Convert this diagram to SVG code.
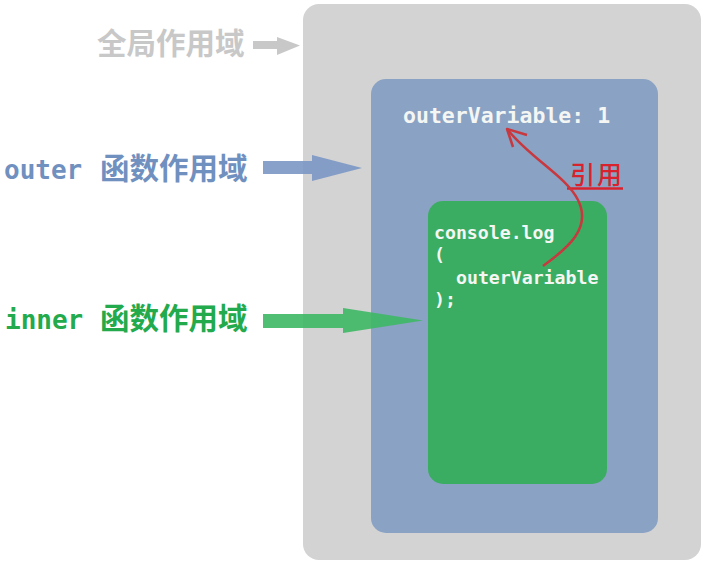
<svg xmlns="http://www.w3.org/2000/svg" width="708" height="568" viewBox="0 0 708 568">
<style>
.cjk{font-family:"Noto Sans CJK SC","Noto Sans",sans-serif;font-weight:bold;font-size:29.5px}
.mono{font-family:"DejaVu Sans Mono","Liberation Mono",monospace;font-weight:bold}
.code{font-family:"DejaVu Sans Mono","Liberation Mono",monospace;font-weight:bold;fill:#f4f6f4}
</style>
<rect width="708" height="568" fill="#ffffff"/>
<g id="global-scope">
<rect x="303" y="4" width="398" height="556" rx="16" fill="#d3d3d3"/>
</g>
<g id="outer-scope">
<rect x="371" y="79" width="287" height="454" rx="15" fill="#8aa2c3"/>
<text class="code" x="403" y="123" font-size="21.5">outerVariable: 1</text>
</g>
<g id="inner-scope">
<rect x="428" y="201" width="179" height="283" rx="15" fill="#3aad62"/>
<text class="code" x="434" y="239" font-size="18.2">console.log</text>
<text class="code" x="434" y="261" font-size="18.2">(</text>
<text class="code" x="456" y="284" font-size="18.2">outerVariable</text>
<text class="code" x="434" y="306" font-size="18.2">);</text>
</g>
<g id="label-global">
<text class="cjk" x="97" y="54" fill="#c8c8c8">全局作用域</text>
</g>
<g id="label-outer">
<text class="mono" x="4" y="179" font-size="26" fill="#7090c0">outer</text>
<text class="cjk" x="100" y="179" fill="#7090c0">函数作用域</text>
</g>
<g id="label-inner">
<text class="mono" x="5" y="329" font-size="26" fill="#22aa4c">inner</text>
<text class="cjk" x="100" y="329" fill="#22aa4c">函数作用域</text>
</g>
<g id="label-ref">
<text x="570" y="184" font-family="Noto Sans CJK SC,sans-serif" font-weight="500" font-size="25" letter-spacing="2" fill="#d8232f">引用</text>
<line x1="567" y1="188.5" x2="623" y2="188.5" stroke="#d8232f" stroke-width="2.5"/>
</g>
<g id="connectors">
<polygon points="253,41 277,41 277,37 300,45.5 277,55 277,49 253,49" fill="#c8c8c8"/>
<polygon points="263,161 312,161 312,155 362,168 312,181 312,174 263,174" fill="#7a97c4" fill-opacity="0.9"/>
<polygon points="263,314 343,314 343,308 423,320.5 343,333 343,328 263,328" fill="#3db865" fill-opacity="0.9"/>
<path d="M543,266 C568,248 592,228 578,200 C566,176 530,158 508,130" fill="none" stroke="#c8383e" stroke-width="2.5"/>
<path d="M527,135 L507,129 L513,147" fill="none" stroke="#c8383e" stroke-width="2.5" stroke-linejoin="round"/>
</g>
</svg>
